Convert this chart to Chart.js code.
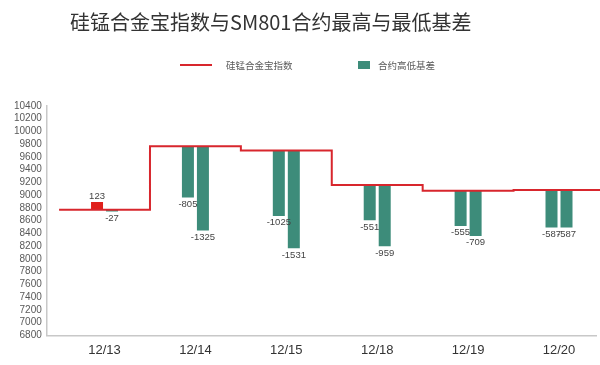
<!DOCTYPE html>
<html>
<head>
<meta charset="utf-8">
<script src="https://cdn.jsdelivr.net/npm/chart.js@4/dist/chart.umd.min.js"></script>
<style>
  body { margin: 0; background: #fff; }
  #wrap { position: relative; width: 600px; height: 365px; overflow: hidden; }
  #title { position: absolute; left: 70px; top: 11px; font: 20px/22px "Noto Sans CJK SC", sans-serif; color: #333; white-space: nowrap; }
  .lg { position: absolute; top: 58px; font: 9.5px/14px "Noto Sans CJK SC", sans-serif; color: #595959; white-space: nowrap; }
  .sw { position: absolute; }
</style>
</head>
<body>
<div id="wrap">
  <canvas id="chart" width="600" height="365"></canvas>
  <div id="title">硅锰合金宝指数与SM801合约最高与最低基差</div>
  <div class="sw" style="left:180px;top:64px;width:32px;height:2px;background:#d8262d"></div>
  <div class="lg" style="left:226px">硅锰合金宝指数</div>
  <div class="sw" style="left:358px;top:61px;width:12px;height:8px;background:#3d8c7a"></div>
  <div class="lg" style="left:378px">合约高低基差</div>
</div>
<script>
const categories = ['12/13', '12/14', '12/15', '12/18', '12/19', '12/20'];
const indexValues = [8770, 9770, 9700, 9160, 9070, 9080];
const highBasis = [123, -805, -1025, -551, -555, -587];
const lowBasis = [-27, -1325, -1531, -959, -709, -587];
const yTicks = [6800, 7000, 7200, 7400, 7600, 7800, 8000, 8200, 8400, 8600, 8800, 9000,
    9200, 9400, 9600, 9800, 10000, 10200, 10400];

const red = '#d8262d';
const green = '#3d8c7a';

// stepped line: one flat segment per day
const linePoints = indexValues.map((v, i) => ({ x: i - 0.5, y: v }));
linePoints.push({ x: categories.length - 0.5, y: indexValues[indexValues.length - 1] });

function floating(basis) {
    return basis.map((b, i) => ({ x: i, y: [indexValues[i] + b, indexValues[i]], basis: b }));
}

const labelPlugin = {
    id: 'basisLabels',
    afterDatasetsDraw(chart) {
        const ctx = chart.ctx;
        ctx.save();
        ctx.font = '9.5px "Liberation Sans", Arial, sans-serif';
        ctx.fillStyle = '#444';
        ctx.textAlign = 'center';
        chart.data.datasets.forEach((ds, di) => {
            if (ds.type === 'line') return;
            chart.getDatasetMeta(di).data.forEach((bar, i) => {
                const b = ds.data[i].basis;
                if (b < 0) {
                    ctx.textBaseline = 'top';
                    ctx.fillText(b, bar.x, Math.max(bar.y, bar.base) + 2);
                } else {
                    ctx.textBaseline = 'bottom';
                    ctx.fillText(b, bar.x, Math.min(bar.y, bar.base) - 1);
                }
            });
        });
        ctx.restore();
    }
};

function barColor(c) {
    return c.raw && c.raw.basis > 0 ? '#e0201c' : green;
}

new Chart(document.getElementById('chart'), {
    type: 'bar',
    data: {
        datasets: [
            {
                type: 'line',
                label: '硅锰合金宝指数',
                data: linePoints,
                stepped: 'before',
                borderColor: red,
                borderWidth: 2,
                pointRadius: 0,
                clip: false,
                order: 0
            },
            {
                label: '最高基差',
                data: floating(highBasis),
                backgroundColor: barColor,
                categoryPercentage: 0.33,
                barPercentage: 0.8,
                order: 1
            },
            {
                label: '最低基差',
                data: floating(lowBasis),
                backgroundColor: barColor,
                categoryPercentage: 0.33,
                barPercentage: 0.8,
                order: 1
            }
        ]
    },
    options: {
        responsive: false,
        animation: false,
        layout: { padding: { top: 106, left: 9, right: 4, bottom: 0 } },
        plugins: { legend: { display: false }, tooltip: { enabled: false } },
        scales: {
            x: {
                type: 'linear',
                offset: false,
                min: -0.635,
                max: 5.407,
                afterBuildTicks: s => { s.ticks = categories.map((c, i) => ({ value: i })); },
                ticks: {
                    padding: 7,
                    autoSkip: false,
                    maxRotation: 0,
                    color: '#333',
                    font: { size: 13, family: '"Liberation Sans", Arial, sans-serif' },
                    callback: v => categories[v]
                },
                grid: { offset: false, drawOnChartArea: false, drawTicks: false },
                border: { color: '#c8c8c8', width: 1.5 }
            },
            y: {
                min: yTicks[0],
                max: yTicks[yTicks.length - 1],
                afterBuildTicks: s => { s.ticks = yTicks.map(v => ({ value: v })); },
                ticks: {
                    autoSkip: false,
                    padding: 5,
                    color: '#595959',
                    font: { size: 10, family: '"Liberation Sans", Arial, sans-serif' },
                    callback: v => String(v)
                },
                grid: { drawOnChartArea: false, drawTicks: false },
                border: { color: '#c8c8c8', width: 1.5 }
            }
        }
    },
    plugins: [labelPlugin]
});
</script>
</body>
</html>
